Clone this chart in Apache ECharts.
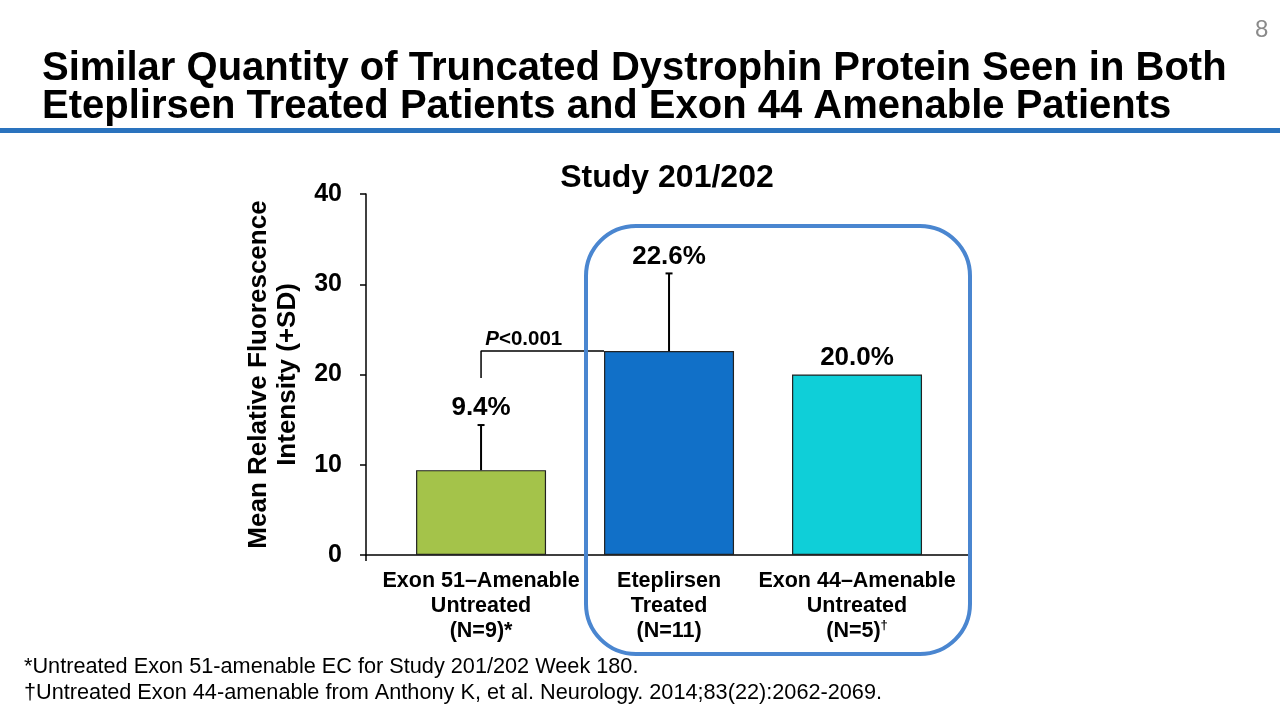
<!DOCTYPE html>
<html><head><meta charset="utf-8">
<script src="https://cdn.jsdelivr.net/npm/echarts@6/dist/echarts.min.js"></script>
<style>html,body{margin:0;padding:0;background:#fff}#c{width:1280px;height:720px}</style>
</head><body><div id="c"></div>
<script>
const categories = ['Exon 51–Amenable\nUntreated\n(N=9)*', 'Eteplirsen\nTreated\n(N=11)', 'Exon 44–Amenable\nUntreated\n(N=5){sup|†}'];
const values = [9.4, 22.6, 20.0];
const sdValues = [5.0, 8.6, null];
const valueLabels = ['9.4%', '22.6%', '20.0%'];
const barColors = ['#A4C34A', '#1170C8', '#0FCFD8'];
const yTicks = [0, 10, 20, 30, 40];
const bracketX = [0, 0, 0.654];
const bracketY = [19.6, 22.6, 22.6];
const pText = '{i|P}<0.001';

const chart = echarts.init(document.getElementById('c'));
const F = '"Liberation Sans", Arial, sans-serif';

const barData = values.map((v, i) => ({value: [i, v], itemStyle: {color: barColors[i]}}));
const errData = values.map((v, i) => [i, v, sdValues[i] == null ? v : v + sdValues[i]]);

chart.setOption({
  animation: false,
  textStyle: {fontFamily: F},
  title: [
    {text: 'Similar Quantity of Truncated Dystrophin Protein Seen in Both\nEteplirsen Treated Patients and Exon 44 Amenable Patients',
     left: 37, top: 45, textStyle: {fontFamily: F, fontSize: 40, fontWeight: 'bold', color: '#000', lineHeight: 38}},
    {text: '8', left: 1250, top: 13, textStyle: {fontFamily: F, fontSize: 24, fontWeight: 'normal', color: '#8a8a8a'}},
    {text: 'Study 201/202', left: 662, top: 157, textAlign: 'center', textStyle: {fontFamily: F, fontSize: 32, fontWeight: 'bold', color: '#000'}},
    {text: '*Untreated Exon 51-amenable EC for Study 201/202 Week 180.\n†Untreated Exon 44-amenable from Anthony K, et al. Neurology. 2014;83(22):2062-2069.',
     left: 19, top: 649, textStyle: {fontFamily: F, fontSize: 21.7, fontWeight: 'normal', color: '#000', lineHeight: 26}}
  ],
  graphic: [
    {type: 'rect', shape: {x: 0, y: 128, width: 1280, height: 5}, style: {fill: '#2A73BE'}},
    {type: 'rect', z: 100, shape: {x: 586, y: 226, width: 384, height: 428, r: 50}, style: {fill: 'none', stroke: '#4A86D0', lineWidth: 4}}
  ],
  grid: {left: 366, right: 310, top: 194, bottom: 165},
  xAxis: {
    type: 'value', min: -0.612, max: 2.601,
    splitLine: {show: false},
    axisLine: {onZero: false, lineStyle: {color: '#000', width: 1.5}},
    axisTick: {show: true, length: 6, customValues: [-0.612, 2.601], lineStyle: {color: '#000', width: 1.5}},
    axisLabel: {
      customValues: [0, 1, 2], margin: 14,
      formatter: v => categories[Math.round(v)],
      fontFamily: F, fontSize: 21.5, fontWeight: 'bold', color: '#000', lineHeight: 25,
      rich: {sup: {fontSize: 13, fontWeight: 'bold', color: '#000', verticalAlign: 'top', padding: [0, 0, 10, 0], lineHeight: 25}}
    }
  },
  yAxis: {
    type: 'value', min: 0, max: 40, interval: 10,
    name: 'Mean Relative Fluorescence\nIntensity (+SD)',
    nameLocation: 'middle', nameRotate: 90, nameGap: 64,
    nameTextStyle: {fontFamily: F, fontSize: 26, fontWeight: 'bold', color: '#000', lineHeight: 29},
    splitLine: {show: false},
    axisLine: {show: true, onZero: false, lineStyle: {color: '#000', width: 1.5}},
    axisTick: {show: true, length: 6, lineStyle: {color: '#000', width: 1.5}},
    axisLabel: {margin: 24, fontFamily: F, fontSize: 25, fontWeight: 'bold', color: '#000',
      formatter: v => yTicks.includes(v) ? String(v) : ''}
  },
  series: [
    {type: 'bar', data: barData, barWidth: 130, z: 2,
     itemStyle: {borderColor: '#222', borderWidth: 1.2}},
    {type: 'custom', data: errData, z: 3,
     renderItem: (params, api) => {
       const lo = api.coord([api.value(0), api.value(1)]);
       const hi = api.coord([api.value(0), api.value(2)]);
       const st = {stroke: '#000', lineWidth: 2};
       const children = [];
       if (Math.abs(hi[1] - lo[1]) > 0.5) {
         children.push({type: 'line', shape: {x1: lo[0], y1: lo[1], x2: hi[0], y2: hi[1]}, style: st});
         children.push({type: 'line', shape: {x1: hi[0] - 3.5, y1: hi[1], x2: hi[0] + 3.5, y2: hi[1]}, style: st});
       }
       children.push({type: 'text', style: {text: valueLabels[params.dataIndex], x: hi[0], y: hi[1] - 4,
         align: 'center', verticalAlign: 'bottom', fill: '#000',
         font: 'bold 26px "Liberation Sans", Arial, sans-serif'}});
       return {type: 'group', children};
     }},
    {type: 'line', data: bracketX.map((x, i) => [x, bracketY[i]]), symbol: 'none', z: 3,
     lineStyle: {color: '#000', width: 1.5}},
    {type: 'custom', data: [[(bracketX[0] + bracketX[2]) / 2 - 0.1, bracketY[2]]], z: 4,
     renderItem: (params, api) => {
       const p = api.coord([api.value(0), api.value(1)]);
       return {type: 'text', style: {text: pText, x: p[0], y: p[1] - 1, align: 'center', verticalAlign: 'bottom',
         fill: '#000', font: 'bold 20.5px "Liberation Sans", Arial, sans-serif',
         rich: {i: {fill: '#000', font: 'italic bold 20.5px "Liberation Sans", Arial, sans-serif'}}}};
     }}
  ]
});
</script></body></html>
